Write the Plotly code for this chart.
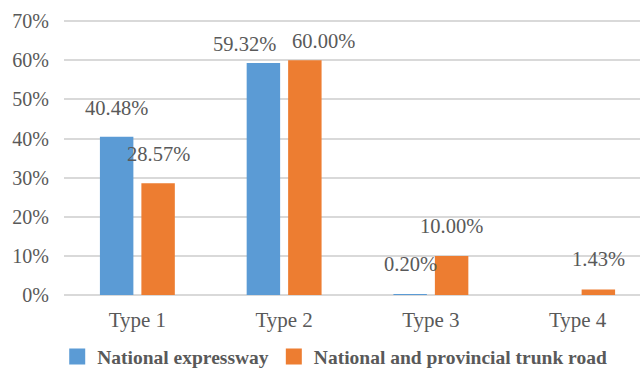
import plotly.graph_objects as go

# Share of each type by road class (%)
categories = ["Type 1", "Type 2", "Type 3", "Type 4"]
expressway = [40.48, 59.32, 0.20, None]
trunk_road = [28.57, 60.00, 10.00, 1.43]
y_ticks = [0, 10, 20, 30, 40, 50, 60, 70]

series_names = ["National expressway", "National and provincial trunk road"]
colors = ["#5B9BD5", "#ED7D31"]
text_color = "#595959"
serif = "Liberation Serif"

BARGAP = 0.435
GROUPGAP = 0.193
# vertical offset (px) of each category's value labels above the bar top
label_lift = [29, 19, 30, 30]
# extra horizontal spread (px) pushing the two labels of a group apart
label_spread = [0, 19, 0, 0]

fig = go.Figure()
for name, vals, col in zip(series_names, [expressway, trunk_road], colors):
    fig.add_trace(go.Bar(
        x=categories, y=vals, name=name, showlegend=False,
        marker=dict(color=col, line=dict(width=0)),
    ))
# legend keys drawn as plain squares
for name, col in zip(series_names, colors):
    fig.add_trace(go.Scatter(
        x=[None], y=[None], mode="markers", name=name,
        marker=dict(symbol="square", size=16, color=col),
    ))

# value labels placed above each bar
slot = (1 - BARGAP) / 2
for s, vals in enumerate([expressway, trunk_road]):
    offset = (s - 0.5) * slot
    side = -1 if s == 0 else 1
    for i, v in enumerate(vals):
        if v is None:
            continue
        fig.add_annotation(
            x=i + offset, y=v, xref="x", yref="y",
            text=f"{v:.2f}%", showarrow=False,
            yshift=label_lift[i], xshift=side * label_spread[i],
            yanchor="middle",
            font=dict(family=serif, size=20.5, color=text_color),
        )

fig.update_layout(
    width=640, height=368,
    margin=dict(l=64, r=0, t=20, b=73, autoexpand=False),
    paper_bgcolor="white", plot_bgcolor="white",
    barmode="group", bargap=BARGAP, bargroupgap=GROUPGAP,
    font=dict(family=serif, size=20, color=text_color),
    legend=dict(
        orientation="h", x=0.47, xanchor="center",
        y=-0.225, yanchor="middle",
        font=dict(family=serif, size=19.5, color=text_color, weight="bold"),
        itemwidth=30, traceorder="normal",
    ),
    showlegend=True,
)
fig.update_xaxes(
    type="category", range=[-0.5, 3.425],
    showline=False, showgrid=False, ticks="",
    ticklabelstandoff=10,
    tickfont=dict(family=serif, size=21, color=text_color),
)
fig.update_yaxes(
    range=[0, 70.3], tickvals=y_ticks,
    ticktext=[f"{t}%" for t in y_ticks],
    showgrid=True, gridcolor="#D9D9D9", gridwidth=2,
    zeroline=True, zerolinecolor="#D9D9D9", zerolinewidth=2,
    showline=False, ticks="", ticklabelstandoff=14,
    tickfont=dict(family=serif, size=20, color=text_color),
)

fig.write_html("out.html")
